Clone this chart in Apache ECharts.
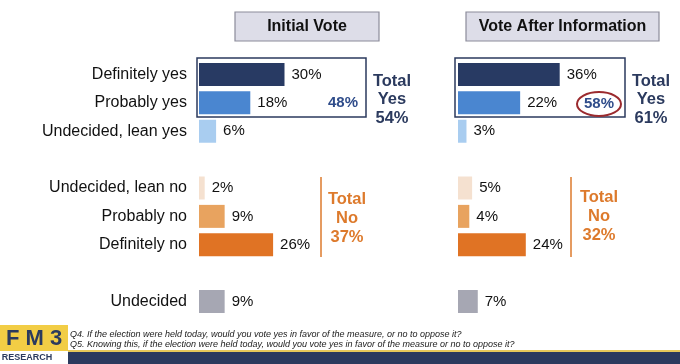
<!DOCTYPE html>
<html>
<head>
<meta charset="utf-8">
<script src="https://cdn.jsdelivr.net/npm/echarts@6/dist/echarts.min.js"></script>
<style>
	html, body { margin: 0; padding: 0; background: #fff; }
	#chart { width: 680px; height: 364px; }
</style>
</head>
<body>
<div id="chart"></div>
<script>
// categories, blank slots keep the gaps between groups
var categories = ['Definitely yes', 'Probably yes', 'Undecided, lean yes', '', 'Undecided, lean no', 'Probably no', 'Definitely no', '', 'Undecided'];
var initialVote = [30, 18, 6, null, 2, 9, 26, null, 9];
var afterInfo = [36, 22, 3, null, 5, 4, 24, null, 7];
var barColors = ['#283a63', '#4a86d0', '#a9cdf0', '#fff', '#f5e1d0', '#e8a35f', '#e07324', '#fff', '#a6a7b3'];
var panelTitles = ['Initial Vote', 'Vote After Information'];
var totalYes = ['54%', '61%'];
var subYes = ['48%', '58%'];
var totalNo = ['37%', '32%'];
var footnotes = [
	'Q4. If the election were held today, would you vote yes in favor of the measure, or no to oppose it?',
	'Q5. Knowing this, if the election were held today, would you vote yes in favor of the measure or no to oppose it?'
];

var FONT = '"Liberation Sans", Arial, sans-serif';
var NAVY = '#2b3a5e';
var ORANGE = '#dd7a2c';

function buildData(values){
	var out = [];
	for(var i = 0; i < values.length; i++){
		out.push({ value: values[i], itemStyle: { color: barColors[i] } });
	}
	return out;
}

function barSeries(values, idx){
	return {
		type: 'bar',
		xAxisIndex: idx,
		yAxisIndex: idx,
		barWidth: 23,
		data: buildData(values),
		label: {
			show: true,
			position: 'right',
			distance: 7,
			fontSize: 15,
			fontFamily: FONT,
			color: '#111',
			formatter: function(p){ return p.value == null ? '' : p.value + '%'; }
		},
		silent: true
	};
}

function titleBox(x, w, text){
	return [
		{ type: 'rect', shape: { x: x, y: 12, width: w, height: 29 },
			style: { fill: '#dddde8', stroke: '#8c8c9a', lineWidth: 1.2 } },
		{ type: 'text', x: x + w / 2, y: 27,
			style: { text: text, fill: '#111', font: 'bold 16px ' + FONT, textAlign: 'center', textVerticalAlign: 'middle' } }
	];
}

function stackText(cx, top, lines, color, lh){
	return { type: 'text', x: cx, y: top,
		style: { text: lines.join('\n'), fill: color, font: 'bold 16.5px ' + FONT, textAlign: 'center', lineHeight: lh } };
}

var graphic = [];
graphic = graphic.concat(titleBox(235, 144, panelTitles[0]));
graphic = graphic.concat(titleBox(466, 193, panelTitles[1]));

// boxes round the two "yes" rows
graphic.push({ type: 'rect', shape: { x: 197, y: 58, width: 169, height: 59 }, style: { fill: null, stroke: NAVY, lineWidth: 1.5 } });
graphic.push({ type: 'rect', shape: { x: 455, y: 58, width: 170, height: 59 }, style: { fill: null, stroke: NAVY, lineWidth: 1.5 } });
graphic.push({ type: 'text', x: 358, y: 103, style: { text: subYes[0], fill: '#2f4c8a', font: 'bold 15px ' + FONT, textAlign: 'right', textVerticalAlign: 'middle' } });
graphic.push({ type: 'text', x: 599, y: 104, style: { text: subYes[1], fill: '#2f4c8a', font: 'bold 15px ' + FONT, textAlign: 'center', textVerticalAlign: 'middle' } });
graphic.push({ type: 'ellipse', shape: { cx: 599, cy: 104, rx: 22, ry: 12 }, style: { fill: null, stroke: '#9b2a2e', lineWidth: 2 } });

graphic.push(stackText(392, 72, ['Total', 'Yes', totalYes[0]], NAVY, 18.5));
graphic.push(stackText(651, 72, ['Total', 'Yes', totalYes[1]], NAVY, 18.5));

// total no brackets
graphic.push({ type: 'line', shape: { x1: 321, y1: 177, x2: 321, y2: 257 }, style: { stroke: ORANGE, lineWidth: 1.5 } });
graphic.push({ type: 'line', shape: { x1: 571, y1: 177, x2: 571, y2: 257 }, style: { stroke: ORANGE, lineWidth: 1.5 } });
graphic.push(stackText(347, 190, ['Total', 'No', totalNo[0]], ORANGE, 19));
graphic.push(stackText(599, 188, ['Total', 'No', totalNo[1]], ORANGE, 19));

// footer
graphic.push({ type: 'rect', shape: { x: 0, y: 325, width: 68, height: 26 }, style: { fill: '#f2cd45' } });
graphic.push({ type: 'text', x: 34, y: 339, style: { text: 'F M 3', fill: NAVY, font: 'bold 22px ' + FONT, textAlign: 'center', textVerticalAlign: 'middle' } });
graphic.push({ type: 'text', x: 27, y: 358, style: { text: 'RESEARCH', fill: NAVY, font: 'bold 9px ' + FONT, textAlign: 'center', textVerticalAlign: 'middle' } });
graphic.push({ type: 'rect', shape: { x: 68, y: 350, width: 612, height: 2 }, style: { fill: '#e6c85a' } });
graphic.push({ type: 'rect', shape: { x: 68, y: 352, width: 612, height: 12 }, style: { fill: NAVY } });
graphic.push({ type: 'text', x: 70, y: 334, style: { text: footnotes[0], fill: '#1a1a1a', font: 'italic 9px ' + FONT, textVerticalAlign: 'middle' } });
graphic.push({ type: 'text', x: 70, y: 344, style: { text: footnotes[1], fill: '#1a1a1a', font: 'italic 9px ' + FONT, textVerticalAlign: 'middle' } });

var option = {
	animation: false,
	grid: [
		{ left: 199, top: 60.3, width: 114, height: 255.4, outerBoundsMode: 'none' },
		{ left: 458, top: 60.3, width: 113, height: 255.4, outerBoundsMode: 'none' }
	],
	xAxis: [
		{ gridIndex: 0, type: 'value', min: 0, max: 40, show: false },
		{ gridIndex: 1, type: 'value', min: 0, max: 40, show: false }
	],
	yAxis: [
		{ gridIndex: 0, type: 'category', inverse: true, data: categories,
			axisLine: { show: false }, axisTick: { show: false }, splitLine: { show: false },
			axisLabel: { margin: 12, fontSize: 16, fontFamily: FONT, color: '#111' } },
		{ gridIndex: 1, type: 'category', inverse: true, data: categories,
			axisLine: { show: false }, axisTick: { show: false }, splitLine: { show: false },
			axisLabel: { show: false } }
	],
	series: [barSeries(initialVote, 0), barSeries(afterInfo, 1)],
	graphic: graphic
};

var myChart = echarts.init(document.getElementById('chart'));
myChart.setOption(option);
</script>
</body>
</html>
